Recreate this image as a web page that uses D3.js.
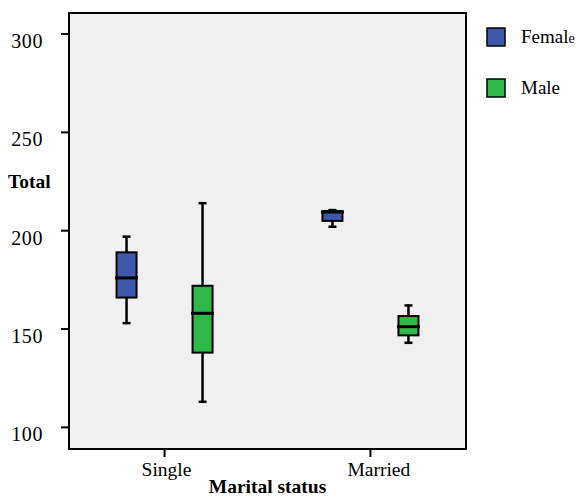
<!DOCTYPE html>
<html>
<head>
<meta charset="utf-8">
<script src="https://cdn.jsdelivr.net/npm/d3@7/dist/d3.min.js"></script>
<style>
  html, body { margin: 0; padding: 0; background: #ffffff; }
  svg { display: block; }
  text { font-family: "Liberation Serif", "Times New Roman", serif; fill: #000; }
</style>
</head>
<body>
<svg id="chart" width="580" height="496"></svg>
<script>
// ---- data ----
const categories = ["Single", "Married"];
const groups = ["Female", "Male"];
const groupColors = ["#3E58AC", "#2EB848"];
// per category: [lower whisker, Q1, median, Q3, upper whisker]
const femaleBox = [[153, 166, 176, 189, 197], [202, 205, 209.5, 210, 210.5]];
const maleBox = [[113, 138, 158, 172, 214], [143, 146.8, 151.2, 156.6, 162]];
const yTicks = [100, 150, 200, 250, 300];
const yTitle = "Total";
const xTitle = "Marital status";

// ---- layout ----
const svg = d3.select("#chart");
const plot = { left: 69, top: 13, right: 466, bottom: 449 };

const y = d3.scaleLinear().domain([89, 310.7]).range([plot.bottom, plot.top]);
const x = d3.scalePoint().domain(categories).range([plot.left, plot.right]).padding(0.464);
const xSub = d3.scaleBand().domain(groups).range([-76, 76]);
const boxW = 20;

svg.append("rect")
  .attr("x", plot.left).attr("y", plot.top)
  .attr("width", plot.right - plot.left).attr("height", plot.bottom - plot.top)
  .attr("fill", "#F0F0F0").attr("stroke", "#000").attr("stroke-width", 2);

// y ticks
const yt = svg.append("g");
yTicks.forEach(v => {
  yt.append("line").attr("x1", plot.left - 8).attr("x2", plot.left)
    .attr("y1", y(v)).attr("y2", y(v)).attr("stroke", "#000").attr("stroke-width", 2);
  yt.append("text").attr("x", 43).attr("y", y(v) + 14)
    .attr("text-anchor", "end").attr("font-size", 20).attr("letter-spacing", 0.6).text(v);
});

// x ticks
categories.forEach(c => {
  svg.append("line").attr("x1", x(c)).attr("x2", x(c))
    .attr("y1", plot.bottom).attr("y2", plot.bottom + 8)
    .attr("stroke", "#000").attr("stroke-width", 2);
  svg.append("text").attr("x", x(c) - 23).attr("y", 476)
    .attr("text-anchor", "start").attr("font-size", 19.5).text(c);
});

svg.append("text").attr("x", 8).attr("y", 188).attr("font-size", 19.5)
  .attr("font-weight", "bold").text(yTitle);
svg.append("text").attr("x", (plot.left + plot.right) / 2).attr("y", 493)
  .attr("text-anchor", "middle").attr("font-size", 19.5)
  .attr("font-weight", "bold").text(xTitle);

// boxes
const series = [femaleBox, maleBox];
groups.forEach((g, gi) => {
  categories.forEach((c, ci) => {
    const s = series[gi][ci];
    const cx = x(c) + xSub(g) + xSub.bandwidth() / 2;
    const gg = svg.append("g");
    // whiskers
    gg.append("line").attr("x1", cx).attr("x2", cx).attr("y1", y(s[0])).attr("y2", y(s[1]))
      .attr("stroke", "#000").attr("stroke-width", 2.5);
    gg.append("line").attr("x1", cx).attr("x2", cx).attr("y1", y(s[3])).attr("y2", y(s[4]))
      .attr("stroke", "#000").attr("stroke-width", 2.5);
    [s[0], s[4]].forEach(v => {
      gg.append("line").attr("x1", cx - 4).attr("x2", cx + 4).attr("y1", y(v)).attr("y2", y(v))
        .attr("stroke", "#000").attr("stroke-width", 2.5);
    });
    gg.append("rect").attr("x", cx - boxW / 2).attr("y", y(s[3]))
      .attr("width", boxW).attr("height", y(s[1]) - y(s[3]))
      .attr("fill", groupColors[gi]).attr("stroke", "#000").attr("stroke-width", 2);
    gg.append("line").attr("x1", cx - boxW / 2 - 1.5).attr("x2", cx + boxW / 2 + 1.5)
      .attr("y1", y(s[2])).attr("y2", y(s[2]))
      .attr("stroke", "#000").attr("stroke-width", 3);
  });
});

// legend
const legTop = [28, 79];
groups.forEach((g, gi) => {
  svg.append("rect").attr("x", 487).attr("y", legTop[gi]).attr("width", 18).attr("height", 18)
    .attr("fill", groupColors[gi]).attr("stroke", "#000").attr("stroke-width", 1.5);
  const t = svg.append("text").attr("x", 521).attr("y", legTop[gi] + 15).attr("font-size", 19);
  if (g === "Female") {
    t.append("tspan").text("Femal");
    t.append("tspan").attr("font-size", 14).text("e");
  } else {
    t.text(g);
  }
});
</script>
</body>
</html>
